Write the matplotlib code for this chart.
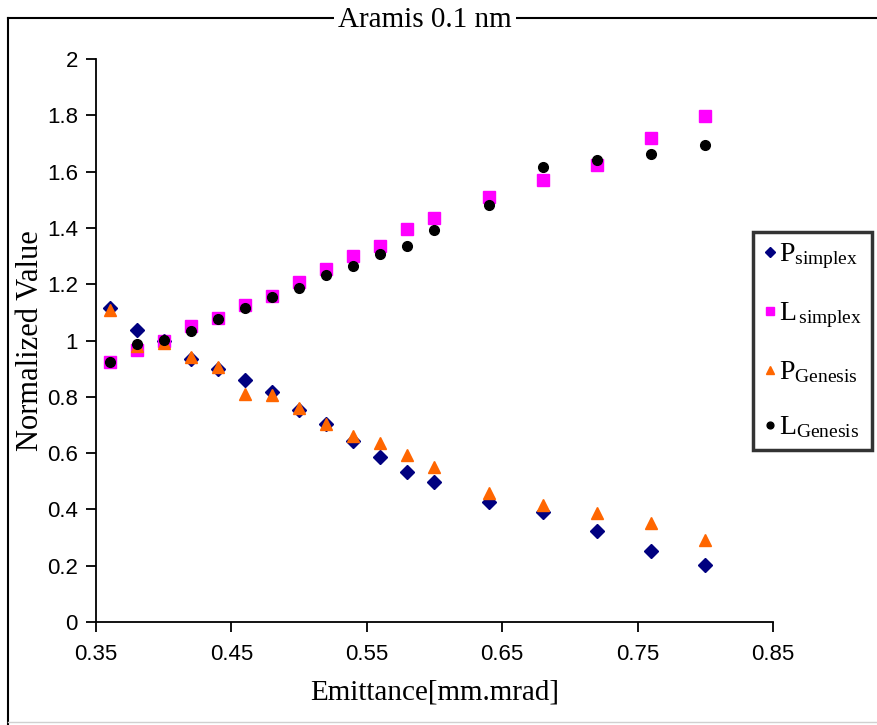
import matplotlib
matplotlib.use("Agg")
from matplotlib import pyplot as plt
from matplotlib.lines import Line2D

plt.rcParams['mathtext.fontset'] = 'custom'
plt.rcParams['mathtext.rm'] = 'Liberation Serif'
plt.rcParams['mathtext.it'] = 'Liberation Serif'

# emittance values [mm.mrad]
emittance = [0.36, 0.38, 0.40, 0.42, 0.44, 0.46, 0.48, 0.50, 0.52, 0.54,
             0.56, 0.58, 0.60, 0.64, 0.68, 0.72, 0.76, 0.80]

p_simplex = [1.115, 1.039, 1.000, 0.935, 0.900, 0.859, 0.816, 0.754, 0.703, 0.643,
             0.587, 0.534, 0.498, 0.428, 0.392, 0.322, 0.254, 0.201]
l_simplex = [0.922, 0.965, 1.000, 1.050, 1.080, 1.127, 1.159, 1.208, 1.254, 1.300,
             1.336, 1.396, 1.435, 1.509, 1.572, 1.622, 1.721, 1.799]
p_genesis = [1.110, 0.980, 0.990, 0.940, 0.905, 0.810, 0.805, 0.760, 0.703, 0.660,
             0.636, 0.594, 0.552, 0.459, 0.417, 0.389, 0.353, 0.293]
l_genesis = [0.922, 0.989, 1.003, 1.035, 1.078, 1.117, 1.155, 1.187, 1.233, 1.265,
             1.307, 1.336, 1.392, 1.480, 1.615, 1.643, 1.664, 1.696]

x_ticks = [0.35, 0.45, 0.55, 0.65, 0.75, 0.85]
y_ticks = [0, 0.2, 0.4, 0.6, 0.8, 1, 1.2, 1.4, 1.6, 1.8, 2]

fig = plt.figure(figsize=(8.78, 7.25), dpi=100)
ax = fig.add_axes([0.1093, 0.142, 0.771, 0.7766])

ax.plot(emittance, p_simplex, 'D', color='#000080', ms=7.5, ls='none',
        label=r'P$_{\mathrm{simplex}}$')
ax.plot(emittance, l_simplex, 's', color='#FF00FF', ms=8, ls='none',
        label=r'L$_{\,\mathrm{simplex}}$')
ax.plot(emittance, p_genesis, '^', color='#FF6600', ms=9, ls='none',
        label=r'P$_{\mathrm{Genesis}}$')
ax.plot(emittance, l_genesis, 'o', color='black', ms=7, ls='none',
        label=r'L$_{\mathrm{Genesis}}$')

ax.set_xlim(0.35, 0.85)
ax.set_ylim(0, 2)
ax.set_xticks(x_ticks)
ax.set_yticks(y_ticks)
ax.set_xticklabels(['%.2f' % t for t in x_ticks])
ax.set_yticklabels(['%g' % t for t in y_ticks])
for lab in ax.get_xticklabels() + ax.get_yticklabels():
    lab.set_family('Liberation Sans')
    lab.set_fontsize(16)
ax.tick_params(direction='out', length=7, width=1.3, pad=6)
ax.tick_params(axis='x', pad=9)

ax.spines['top'].set_visible(False)
ax.spines['right'].set_visible(False)
ax.spines['left'].set_linewidth(1.3)
ax.spines['bottom'].set_linewidth(1.3)

ax.set_xlabel('Emittance[mm.mrad]', family='Liberation Serif', fontsize=21, labelpad=10)
ax.set_ylabel('Normalized Value', family='Liberation Serif', fontsize=22)
ax.yaxis.set_label_coords(-0.075, 0.5)

leg = ax.legend(loc='upper left', bbox_to_anchor=(753 / 878, 1 - 232 / 725),
                bbox_transform=fig.transFigure, prop={'family': 'Liberation Serif', 'size': 20},
                frameon=True, fancybox=False, handletextpad=0.05, handlelength=0.55,
                borderpad=0.35, labelspacing=1.05, borderaxespad=0, markerscale=0.7)
leg.get_frame().set_edgecolor('black')
leg.get_frame().set_linewidth(2.5)

# outer chart border, broken by the title
fig.add_artist(Line2D([8 / 878, 8 / 878], [0, 1 - 18 / 725], color='black', lw=1.5,
                      transform=fig.transFigure))
fig.add_artist(Line2D([8 / 878, 1], [1 - 18 / 725, 1 - 18 / 725], color='black', lw=1.5,
                      transform=fig.transFigure))
fig.add_artist(Line2D([8 / 878, 1], [3 / 725, 3 / 725], color='#d0d0d0', lw=1,
                      transform=fig.transFigure))
fig.text(425 / 878, 1 - 20 / 725, 'Aramis 0.1 nm', ha='center', va='center',
         family='Liberation Serif', fontsize=21,
         bbox=dict(facecolor='white', edgecolor='none', pad=3))

fig.savefig('out.png', dpi=100)
